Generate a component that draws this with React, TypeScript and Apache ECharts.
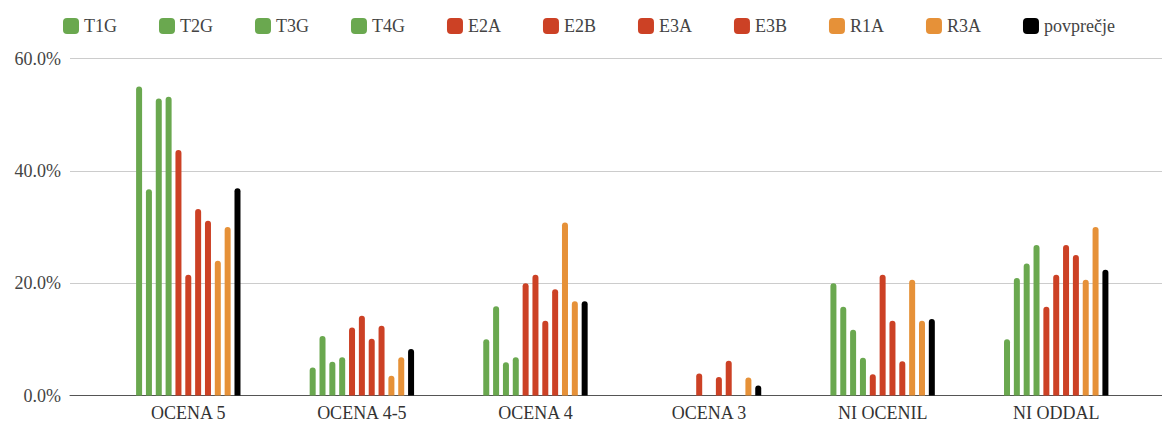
import React, { useEffect, useRef } from "react";
import * as echarts from "echarts";

const categories = ["OCENA 5", "OCENA 4-5", "OCENA 4", "OCENA 3", "NI OCENIL", "NI ODDAL"];
const seriesNames = ["T1G", "T2G", "T3G", "T4G", "E2A", "E2B", "E3A", "E3B", "R1A", "R3A", "povprečje"];
const T1G = [55.0, 5.0, 10.0, 0, 20.0, 10.0];
const T2G = [36.7, 10.6, 15.9, 0, 15.8, 20.9];
const T3G = [52.9, 6.0, 5.9, 0, 11.7, 23.5];
const T4G = [53.2, 6.8, 6.8, 0, 6.7, 26.8];
const E2A = [43.7, 12.1, 20.0, 3.9, 3.8, 15.8];
const E2B = [21.5, 14.2, 21.5, 0, 21.5, 21.5];
const E3A = [33.2, 10.1, 13.3, 3.3, 13.3, 26.8];
const E3B = [31.1, 12.4, 18.9, 6.2, 6.1, 25.0];
const R1A = [24.0, 3.5, 30.8, 0, 20.6, 20.6];
const R3A = [30.0, 6.8, 16.8, 3.2, 13.3, 30.0];
const POVPRECJE = [36.9, 8.3, 16.8, 1.8, 13.6, 22.4];
const seriesValues = [T1G, T2G, T3G, T4G, E2A, E2B, E3A, E3B, R1A, R3A, POVPRECJE];
const GREEN = "#6aa84f";
const RED = "#cc4125";
const ORANGE = "#e69138";
const BLACK = "#000000";
const seriesColors = [GREEN, GREEN, GREEN, GREEN, RED, RED, RED, RED, ORANGE, ORANGE, BLACK];
const yTicks = [0, 20, 40, 60];

const FONT = "serif";

export default function App() {
  const ref = useRef<HTMLDivElement>(null);
  useEffect(() => {
    document.body.style.margin = "0";
    if (!ref.current) return;
    const chart = echarts.init(ref.current, null, { renderer: "svg" });
    const top = 58.5;
    const bottom = 27.5;
    chart.setOption({
      animation: false,
      textStyle: { fontFamily: FONT },
      legend: {
        data: seriesNames,
        left: 58,
        top: 12,
        icon: "roundRect",
        itemWidth: 16,
        itemHeight: 16,
        itemGap: 42,
        textStyle: { fontFamily: FONT, fontSize: 18, color: "#444" },
      },
      grid: [
        { left: 70, right: 0, top, bottom },
        { left: 101.5, right: 19, top, bottom },
      ],
      xAxis: [
        {
          gridIndex: 0,
          type: "value",
          min: 0,
          max: 1,
          axisLine: { show: true, lineStyle: { color: "#555", width: 1 } },
          axisTick: { show: false },
          axisLabel: { show: false },
          splitLine: { show: false },
        },
        {
          gridIndex: 1,
          type: "category",
          data: categories,
          axisLine: { show: false },
          axisTick: { show: false },
          axisLabel: { fontFamily: FONT, fontSize: 18, color: "#333", margin: 8 },
        },
      ],
      yAxis: [
        {
          gridIndex: 0,
          type: "value",
          min: yTicks[0],
          max: yTicks[yTicks.length - 1],
          interval: 20,
          axisLine: { show: false },
          axisTick: { show: false },
          axisLabel: {
            fontFamily: FONT,
            fontSize: 18,
            color: "#444",
            margin: 9,
            formatter: (v: number) => v.toFixed(1) + "%",
          },
          splitLine: { show: true, lineStyle: { color: "#cccccc", width: 1 } },
        },
        {
          gridIndex: 1,
          type: "value",
          min: 0,
          max: 60,
          show: false,
          splitLine: { show: false },
        },
      ],
      series: seriesNames.map((name, i) => ({
        name,
        type: "bar",
        xAxisIndex: 1,
        yAxisIndex: 1,
        data: seriesValues[i],
        barWidth: 6,
        barGap: "64%",
        itemStyle: { color: seriesColors[i], borderRadius: [3, 3, 0, 0] },
      })),
    });
    return () => chart.dispose();
  }, []);
  return <div ref={ref} style={{ width: 1162, height: 423 }} />;
}
